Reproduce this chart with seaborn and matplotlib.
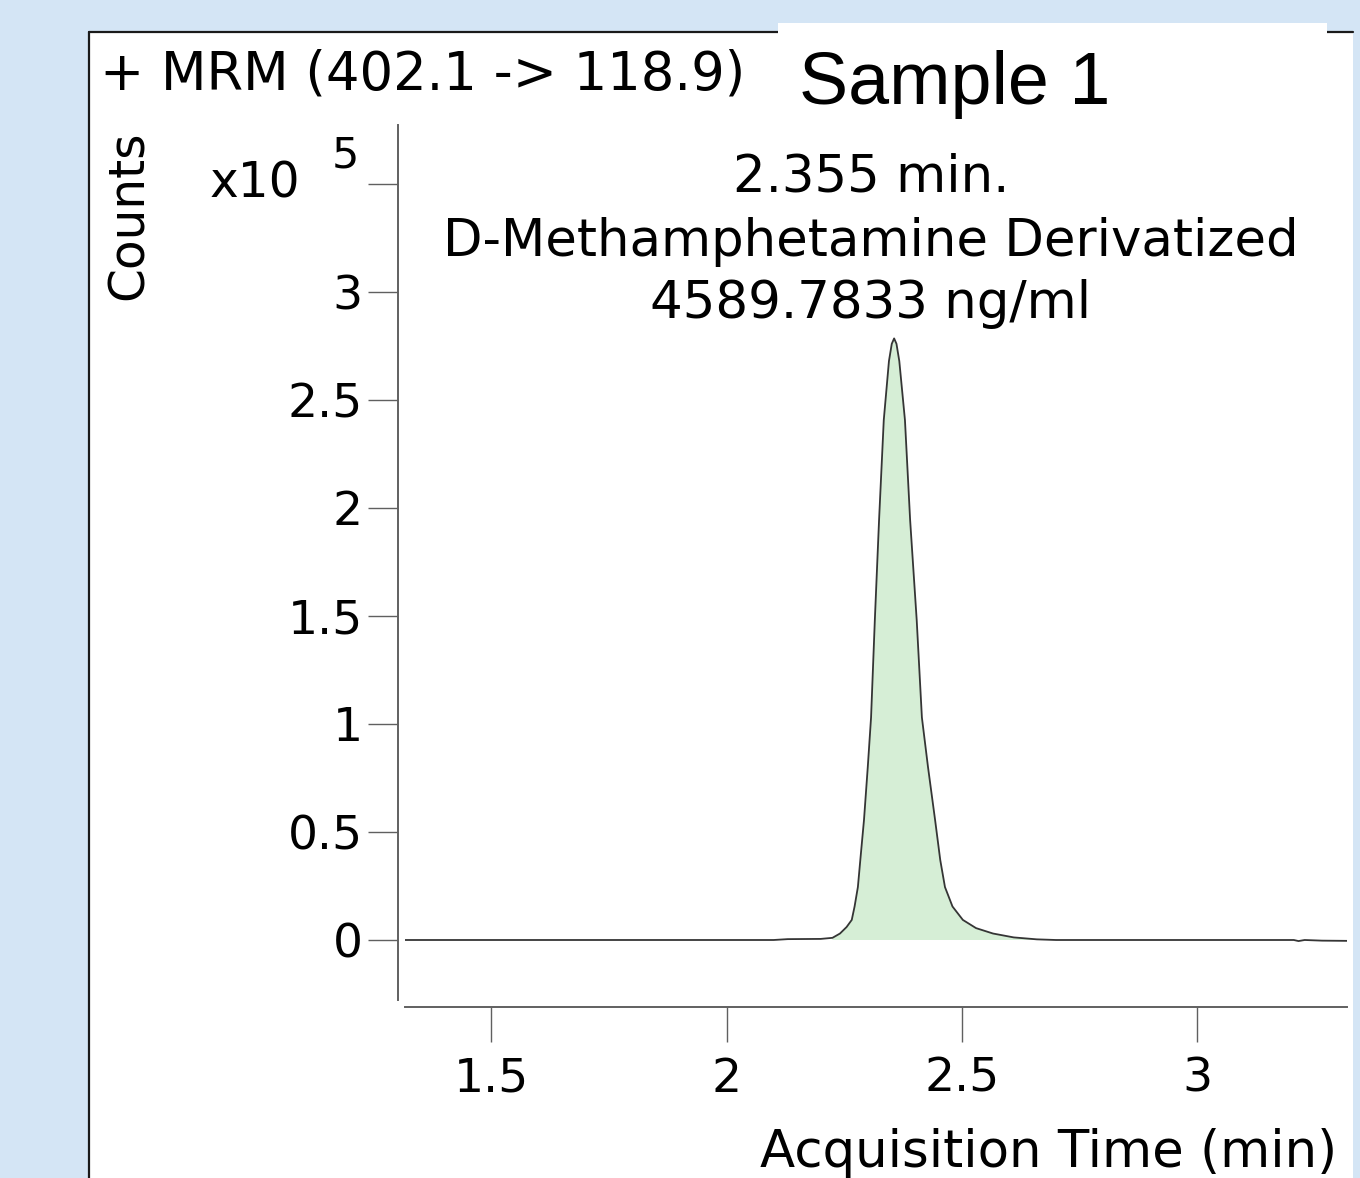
#!/usr/bin/env python3

# Import libraries
import numpy as np
import pandas as pd
import matplotlib as mpl
mpl.use("Agg")
import matplotlib.pyplot as plt
from matplotlib.patches import Rectangle
from matplotlib.lines import Line2D
import seaborn as sns


# Chromatogram trace (acquisition time in min, counts)
times = [1.317, 1.80, 2.10, 2.13, 2.20, 2.225, 2.241, 2.255, 2.266, 2.272,
         2.279, 2.285, 2.292, 2.300, 2.307, 2.315, 2.324, 2.334, 2.345, 2.351,
         2.356, 2.361, 2.367, 2.379, 2.390, 2.404, 2.415, 2.428, 2.443, 2.454,
         2.464, 2.480, 2.502, 2.530, 2.566, 2.610, 2.659, 2.70, 3.00, 3.205,
         3.215, 3.228, 3.265, 3.318]
counts = [0, 0, 0, 400, 500, 1000, 3000, 6000, 9300, 15500,
          24500, 39000, 55600, 80000, 103000, 148000, 194400, 240700, 268000, 276000,
          278500, 276000, 268000, 240700, 194400, 148000, 103000, 80000, 55600, 37000,
          24500, 15500, 9300, 5500, 3000, 1200, 300, 0, 0, 0,
          -500, 0, -300, -400]

# Integrated peak window
peak_start = 2.225
peak_end = 2.70

# Axis ticks
x_ticks = [1.5, 2, 2.5, 3]
x_tick_labels = ["1.5", "2", "2.5", "3"]
y_ticks = [0, 50000, 100000, 150000, 200000, 250000, 300000, 350000]
y_tick_labels = ["0", "0.5", "1", "1.5", "2", "2.5", "3", ""]

# Texts
title = "+ MRM (402.1 -> 118.9)"
sample_name = "Sample 1"
peak_labels = ["2.355 min.", "D-Methamphetamine Derivatized", "4589.7833 ng/ml"]

W, H = 1360, 1178


def px(x, y):
    ''' Pixel position (from top left) to figure fraction. '''
    return x / W, 1 - y / H


def plot():
    df = pd.DataFrame({"time": times, "counts": counts})

    sns.set_style("white")
    plt.rcParams["font.family"] = ["DejaVu Sans"]
    plt.rcParams["text.color"] = "black"
    plt.rcParams["xtick.labelcolor"] = "black"
    plt.rcParams["ytick.labelcolor"] = "black"

    fig = plt.figure(figsize=(W / 100, H / 100), dpi=100)
    fig.patch.set_facecolor("#d4e5f5")

    # White panel with dark left/top border
    fig.patches.append(Rectangle(px(89, 1178), (1353 - 89) / W, (1178 - 32) / H,
                                 transform=fig.transFigure, facecolor="white",
                                 edgecolor="none", zorder=-3))
    fig.lines.append(Line2D([89 / W, 89 / W], [0, 1 - 32 / H], transform=fig.transFigure,
                            color="#1a1a1a", lw=1.6, zorder=-2))
    fig.lines.append(Line2D([89 / W, 1353 / W], [1 - 32 / H, 1 - 32 / H],
                            transform=fig.transFigure, color="#1a1a1a", lw=1.6, zorder=-2))
    # White box behind sample name
    fig.patches.append(Rectangle(px(778, 130), (1327 - 778) / W, (130 - 23) / H,
                                 transform=fig.transFigure, facecolor="white",
                                 edgecolor="none", zorder=-1))

    ax = fig.add_axes([405 / W, 1 - 1007 / H, (1347 - 405) / W, (1007 - 125) / H])
    ax.set_facecolor("none")
    ax.set_zorder(1)

    # Graph
    sns.lineplot(data=df, x="time", y="counts", ax=ax, color="#353535",
                 linewidth=1.3, estimator=None, sort=False, zorder=3)
    t = np.array(times)
    ax.fill_between(times, counts, 0, where=(t >= peak_start) & (t <= peak_end),
                    facecolor="#d6eed6", edgecolor="none", zorder=1)

    ax.set_xlim(1.317, 3.318)
    ax.set_ylim(-31020, 377300)

    # Spines
    for s in ["top", "right"]:
        ax.spines[s].set_visible(False)
    ax.spines["left"].set_position(("outward", 5))
    ax.spines["left"].set_bounds(-27800, 377300)
    for s in ["left", "bottom"]:
        ax.spines[s].set_color("#606060")
        ax.spines[s].set_linewidth(1.4)

    # Ticks
    ax.set_xticks(x_ticks)
    ax.set_xticklabels(x_tick_labels)
    ax.set_yticks(y_ticks)
    ax.set_yticklabels(y_tick_labels)
    ax.tick_params(axis="x", direction="out", length=25, width=1.0, color="#606060",
                   labelsize=34, pad=11, bottom=True, labelcolor="black")
    ax.tick_params(axis="y", direction="out", length=21.5, width=1.0, color="#606060",
                   labelsize=34, pad=4, left=True, labelcolor="black")
    ax.set_xlabel("")
    ax.set_ylabel("")

    # Labels
    fig.text(*px(1337, 1167), "Acquisition Time (min)", fontsize=37, ha="right", va="baseline")
    fig.text(*px(129, 215), "Counts", fontsize=35, rotation=90, ha="center", va="center")
    fig.text(*px(210, 197), "x10", fontsize=35, ha="left", va="baseline")
    fig.text(*px(332, 167), "5", fontsize=31, ha="left", va="baseline")
    fig.text(*px(100, 90), title, fontsize=38, ha="left", va="baseline")
    fig.text(*px(799, 104), sample_name, fontsize=53, ha="left", va="baseline",
             family=["Liberation Sans", "DejaVu Sans"])

    # Peak annotation
    for label, y in zip(peak_labels, [192, 256, 318]):
        fig.text(*px(871, y), label, fontsize=37, ha="center", va="baseline")

    return fig


def main():
    fig = plot()
    fig.savefig("out.png", dpi=100)


if __name__ == '__main__':
    main()
